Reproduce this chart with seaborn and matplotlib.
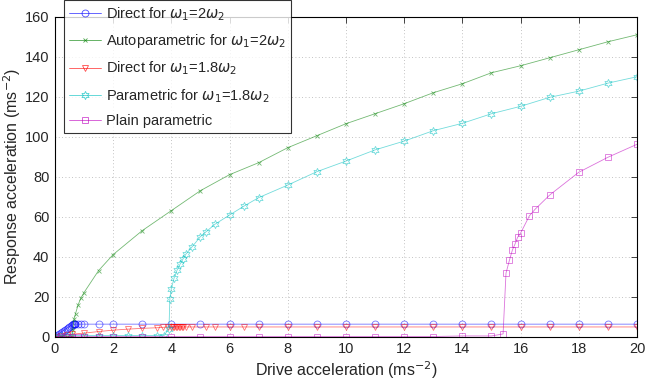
import matplotlib
matplotlib.use("Agg")
import matplotlib.pyplot as plt
import numpy as np
import pandas as pd
import seaborn as sns

# direct response, w1 = 2 w2
direct2_x = [0, 0.05, 0.1, 0.15, 0.2, 0.25, 0.3, 0.35, 0.4, 0.45, 0.5, 0.55, 0.6,
             0.62, 0.64, 0.66, 0.68, 0.7, 0.8, 0.9, 1.0, 1.5, 2, 3, 4, 5, 6, 7, 8,
             9, 10, 11, 12, 13, 14, 15, 16, 17, 18, 19, 20]
direct2_y = [0, 0.5, 1.0, 1.5, 2.0, 2.5, 3.0, 3.5, 4.0, 4.5, 5.0, 5.5, 6.0,
             6.2, 6.2, 6.2, 6.2, 6.2, 6.2, 6.2, 6.2, 6.2, 6.2, 6.2, 6.2, 6.2, 6.2, 6.2, 6.2,
             6.2, 6.2, 6.2, 6.2, 6.2, 6.2, 6.2, 6.2, 6.2, 6.2, 6.2, 6.2]

# autoparametric response, w1 = 2 w2
auto2_x = [0, 0.2, 0.4, 0.6, 0.62, 0.66, 0.71, 0.8, 0.9, 1.0, 1.5, 2, 3, 4, 5, 6,
           7, 8, 9, 10, 11, 12, 13, 14, 15, 16, 17, 18, 19, 20]
auto2_y = [0, 0, 0, 0, 3.5, 9, 11.5, 16, 19.5, 22, 33, 41, 53, 63, 73, 81,
           87, 94.5, 100.5, 106.5, 111.5, 116.5, 122, 126.5, 132, 135.5, 139.5, 143.5, 147.5, 151]

# direct response, w1 = 1.8 w2
direct18_x = [0, 0.2, 0.4, 0.6, 1.0, 1.5, 2, 2.5, 3, 3.5, 3.7, 3.9, 4.0, 4.05, 4.1,
              4.15, 4.2, 4.25, 4.3, 4.35, 4.4, 4.5, 4.7, 5.2, 5.5, 6, 6.5, 7, 8, 9,
              10, 11, 12, 13, 14, 15, 16, 17, 18, 19, 20]
direct18_y = [0, 0.4, 0.8, 1.2, 1.7, 2.5, 3.2, 3.7, 4.1, 4.4, 4.6, 4.8, 4.8, 4.8, 4.8,
              4.8, 4.8, 4.8, 4.8, 4.8, 4.8, 4.8, 4.8, 4.8, 4.8, 4.8, 4.8, 4.8, 4.8, 4.8,
              4.8, 4.8, 4.8, 4.8, 4.8, 4.8, 4.8, 4.8, 4.8, 4.8, 4.8]

# parametric response, w1 = 1.8 w2
param18_x = [0, 0.2, 0.4, 0.6, 1.0, 1.5, 2, 2.5, 3, 3.5, 3.75, 3.92, 3.95, 4.0, 4.1,
             4.2, 4.3, 4.4, 4.5, 4.72, 5.0, 5.2, 5.5, 6, 6.5, 7, 8, 9, 10, 11, 12,
             13, 14, 15, 16, 17, 18, 19, 20]
param18_y = [0.5, 0.5, 0.5, 0.5, 0.5, 0.5, 0.5, 0.5, 0.5, 0.5, 0.5, 4, 19, 24, 29.5,
             33.3, 36.2, 38.8, 41.2, 45, 50, 52.5, 56.2, 60.8, 65.3, 69.5, 75.8, 82.5, 87.8, 93.4, 97.8,
             103, 106.7, 111.5, 115.2, 119.7, 122.8, 126.8, 130]

# plain parametric
plain_x = [0, 0.2, 0.4, 0.6, 0.8, 1.0, 1.5, 2, 3, 4, 5, 6, 7, 8, 9, 10, 11, 12, 13,
           14, 15, 15.4, 15.5, 15.62, 15.72, 15.81, 15.9, 16.0, 16.3, 16.5, 17, 18, 19, 20]
plain_y = [0, 0, 0, 0, 0, 0, 0, 0, 0, 0, 0, 0, 0, 0, 0, 0, 0, 0, 0,
           0.3, 0.3, 1.3, 31.7, 38.3, 43.3, 46.3, 49.7, 51.7, 60.3, 63.7, 70.8, 82.2, 89.7, 96.2]

series = [
    (direct2_x, direct2_y, "b", "o", 5, r"Direct for $\omega_1$=2$\omega_2$"),
    (auto2_x, auto2_y, "g", "x", 3.5, r"Autoparametric for $\omega_1$=2$\omega_2$"),
    (direct18_x, direct18_y, "r", "v", 5, r"Direct for $\omega_1$=1.8$\omega_2$"),
    (param18_x, param18_y, "c", (6, 1, 0), 6, r"Parametric for $\omega_1$=1.8$\omega_2$"),
    (plain_x, plain_y, "m", "s", 4.5, "Plain parametric"),
]

sns.set_style("white")
plt.rcParams["font.family"] = ["Liberation Sans", "DejaVu Sans"]
plt.rcParams["mathtext.fontset"] = "dejavusans"

fig = plt.figure(figsize=(6.46, 3.82), dpi=100)
ax = fig.add_axes([0.085, 0.119, 0.901, 0.837])

for xs, ys, col, mk, ms, lab in series:
    df = pd.DataFrame({"x": xs, "y": ys})
    sns.lineplot(data=df, x="x", y="y", ax=ax, color=col, marker=mk,
                 markersize=ms, markerfacecolor="none", markeredgecolor=col,
                 markeredgewidth=0.6, linewidth=0.6, alpha=0.55,
                 sort=False, estimator=None, label=lab)

ax.set_xlim(0, 20)
ax.set_ylim(0, 160)
ax.set_xticks(np.arange(0, 21, 2))
ax.set_yticks(np.arange(0, 161, 20))
ax.grid(True, linestyle=(0, (1, 3)), color="#b0b0b0", linewidth=0.6)
ax.tick_params(direction="in", length=4, width=0.6, labelsize=10.5,
               top=True, right=True, pad=4)
for sp in ax.spines.values():
    sp.set_color("black")
    sp.set_linewidth(0.8)

ax.set_xlabel(r"Drive acceleration (ms$^{-2}$)", fontsize=11.5, labelpad=2)
ax.set_ylabel(r"Response acceleration (ms$^{-2}$)", fontsize=11.5, labelpad=1)

leg = ax.legend(loc="upper left", bbox_to_anchor=(0.0155, 1.053), fontsize=10.5,
                frameon=True, fancybox=False, edgecolor="black",
                handlelength=2.2, handletextpad=0.35, borderpad=0.35,
                labelspacing=0.65, borderaxespad=0)
leg.get_frame().set_linewidth(0.8)
for h in leg.legend_handles:
    h.set_alpha(0.7)

fig.savefig("out.png", dpi=100)
